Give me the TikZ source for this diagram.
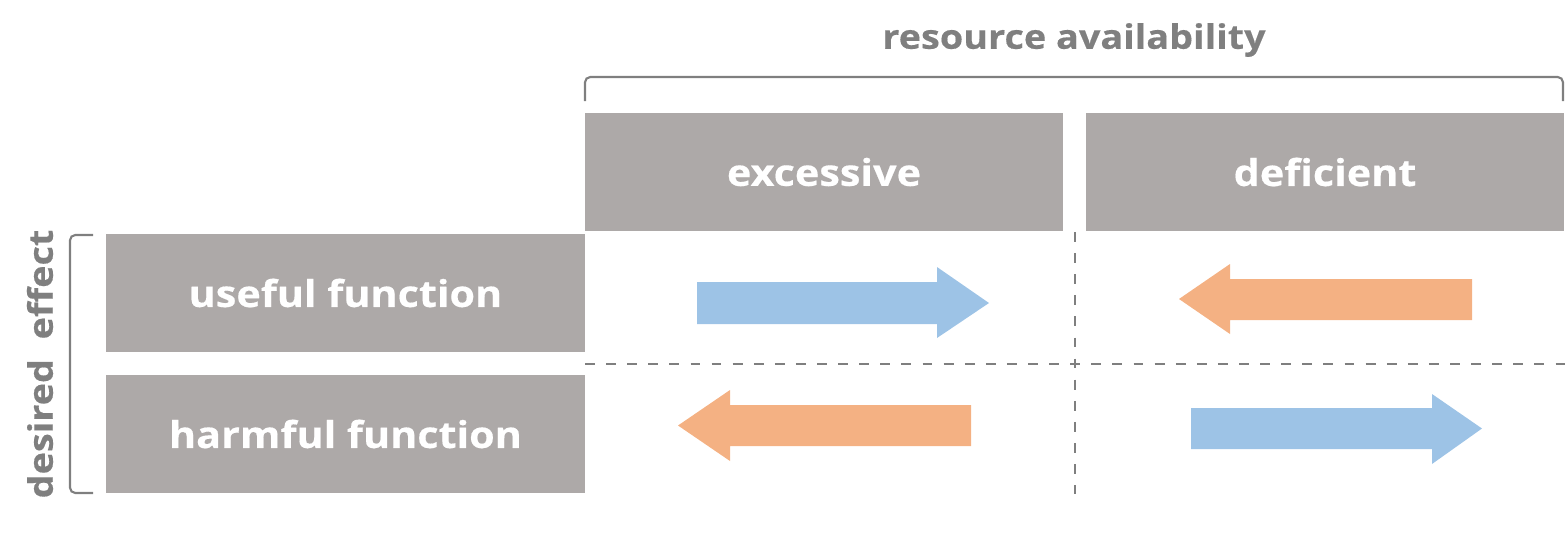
\documentclass[tikz,border=0pt]{standalone}
\usepackage{fontspec}
\newfontfamily\heavy{Open Sans Bold}[FakeStretch=1.12,FakeBold=0.4]
\definecolor{boxgray}{HTML}{ADA9A8}
\definecolor{labgray}{HTML}{7F7F7F}
\definecolor{arrblue}{HTML}{9DC3E6}
\definecolor{arrorange}{HTML}{F4B183}
\begin{document}
\begin{tikzpicture}[x=0.01cm,y=-0.01cm,
  cell/.style={fill=boxgray,draw=none,text=white,font=\fontsize{10.5}{12}\heavy,inner sep=0pt,minimum height=1.18cm},
  toplab/.style={text=labgray,font=\fontsize{9.6}{11}\heavy,inner sep=0pt},
  brk/.style={draw=labgray,line width=0.6pt,rounded corners=1.5pt},
  grid/.style={draw=labgray,line width=0.6pt,dash pattern=on 2.8pt off 3.2pt},
  blu/.style={fill=arrblue,draw=none},
  org/.style={fill=arrorange,draw=none}]
\useasboundingbox (0,0) rectangle (1568,551);
% header cells
\node[cell,minimum width=4.78cm] (exc) at (824,172) {excessive};
\node[cell,minimum width=4.78cm] (def) at (1325,172) {deficient};
\node[cell,minimum width=4.79cm] (use) at (345.5,293) {useful function};
\node[cell,minimum width=4.79cm] (harm) at (345.5,434) {harmful function};
% labels
\node[toplab] (ra) at (1074,40) {resource availability};
\node[toplab,rotate=90] (de) at (40,364) {desired\ \ effect};
% brackets
\draw[brk] (585,101) -- (585,77) -- (1563,77) -- (1563,101);
\draw[brk] (93,235) -- (70,235) -- (70,493) -- (93,493);
% dashed grid
\draw[grid] (1075,232) -- (1075,494);
\draw[grid] (585,364) -- (1568,364);
% arrows
\fill[blu] (697,282) -- (937,282) -- (937,267) -- (989,303) -- (937,338) -- (937,324) -- (697,324) -- cycle;
\fill[org] (1472,279) -- (1230,279) -- (1230,264) -- (1179,299) -- (1230,334) -- (1230,320) -- (1472,320) -- cycle;
\fill[org] (971,405) -- (730,405) -- (730,390) -- (678,425.5) -- (730,461) -- (730,446) -- (971,446) -- cycle;
\fill[blu] (1191,408) -- (1432,408) -- (1432,394) -- (1482,428.5) -- (1432,464) -- (1432,449) -- (1191,449) -- cycle;
\end{tikzpicture}
\end{document}
